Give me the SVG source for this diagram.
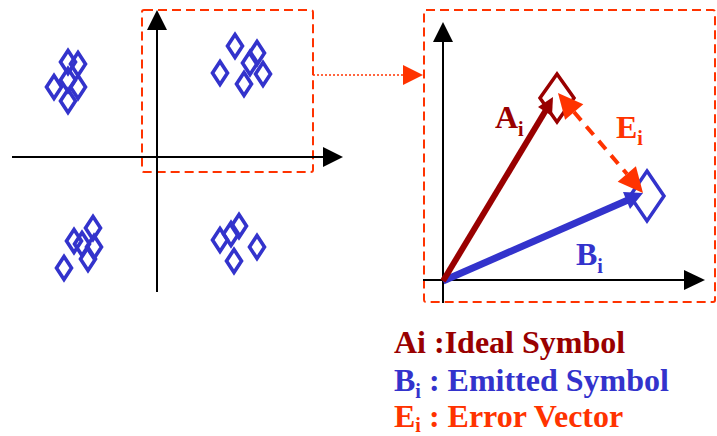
<svg xmlns="http://www.w3.org/2000/svg" xmlns:xlink="http://www.w3.org/1999/xlink" width="717" height="436" viewBox="0 0 717 436">
<style>
.axis{stroke:#000;stroke-width:2;fill:none}
.head{fill:#000}
.frame{fill:none;stroke:#FF3300;stroke-width:2;stroke-dasharray:9,5}
.sd{fill:none;stroke:#3333CC;stroke-width:3.6}
.lbl{font-family:"Liberation Serif","Times New Roman",serif;font-weight:bold;font-size:32px}
.sub{font-size:20px}
.red{fill:#990000}
.blue{fill:#3333CC}
.orange{fill:#FF3300}
</style>
<defs>
<path id="dm" d="M0,-11.5 L7.5,0 L0,11.5 L-7.5,0 Z"/>
</defs>
<rect width="717" height="436" fill="#fff"/>
<g id="left-frame"><rect class="frame" x="142" y="10" width="171" height="162" rx="2"/></g>
<g id="right-frame"><rect class="frame" x="424" y="10" width="291" height="292" rx="2"/></g>
<g id="left-axes">
<line class="axis" x1="12" y1="157" x2="325" y2="157"/>
<polygon class="head" points="323,147 343,157 323,167"/>
<line class="axis" x1="157" y1="292" x2="157" y2="28"/>
<polygon class="head" points="147,30 157,10 167,30"/>
</g>
<g id="constellation">
<use xlink:href="#dm" class="sd" x="68" y="62"/>
<use xlink:href="#dm" class="sd" x="78" y="64"/>
<use xlink:href="#dm" class="sd" x="54" y="87"/>
<use xlink:href="#dm" class="sd" x="68" y="80"/>
<use xlink:href="#dm" class="sd" x="78" y="87"/>
<use xlink:href="#dm" class="sd" x="68" y="101"/>
<use xlink:href="#dm" class="sd" x="235" y="46"/>
<use xlink:href="#dm" class="sd" x="257" y="53"/>
<use xlink:href="#dm" class="sd" x="250" y="63"/>
<use xlink:href="#dm" class="sd" x="220" y="73"/>
<use xlink:href="#dm" class="sd" x="263" y="74"/>
<use xlink:href="#dm" class="sd" x="244" y="84"/>
<use xlink:href="#dm" class="sd" x="93" y="228"/>
<use xlink:href="#dm" class="sd" x="74" y="241"/>
<use xlink:href="#dm" class="sd" x="82" y="244"/>
<use xlink:href="#dm" class="sd" x="94" y="247"/>
<use xlink:href="#dm" class="sd" x="88" y="259"/>
<use xlink:href="#dm" class="sd" x="64" y="268"/>
<use xlink:href="#dm" class="sd" x="239" y="226"/>
<use xlink:href="#dm" class="sd" x="231" y="234"/>
<use xlink:href="#dm" class="sd" x="220" y="240"/>
<use xlink:href="#dm" class="sd" x="257" y="247"/>
<use xlink:href="#dm" class="sd" x="234" y="261"/>
</g>
<g id="right-axes">
<line class="axis" x1="423" y1="280" x2="686" y2="280"/>
<polygon class="head" points="684,270 705,280 684,290"/>
<line class="axis" x1="443" y1="303" x2="443" y2="40"/>
<polygon class="head" points="433,42 443,22 453,42"/>
</g>
<g id="symbol-A"><path d="M557,74 L574,98 L557,122 L540,98 Z" fill="none" stroke="#990000" stroke-width="3.5"/></g>
<g id="symbol-B"><path d="M647,171 L664,196 L647,221 L630,196 Z" fill="none" stroke="#3333CC" stroke-width="3.5"/></g>
<g id="connectors">
<path d="M443,281 L628,200" stroke="#3333CC" stroke-width="7" fill="none"/>
<polygon points="643,193 630,209 623,192" fill="#3333CC"/>
<path d="M443,281 L546,110" stroke="#990000" stroke-width="6" fill="none"/>
<polygon points="553,97 552,116 538,107" fill="#990000"/>
<path d="M574,112 L627,174" stroke="#FF3300" stroke-width="4" stroke-dasharray="11,8" fill="none"/>
<polygon points="558,93 583.3,104.3 565.1,119.8" fill="#FF3300"/>
<polygon points="643,193 635.9,166.2 617.7,181.7" fill="#FF3300"/>
<path d="M313,75 L404,75" stroke="#FF3300" stroke-width="1.5" stroke-dasharray="2,2" fill="none"/>
<polygon points="403,65 423,75 403,85" fill="#FF3300"/>
</g>
<g id="labels">
<text class="lbl red" x="495" y="128">A<tspan class="sub" dy="8">i</tspan></text>
<text class="lbl orange" x="616" y="138">E<tspan class="sub" dy="7">i</tspan></text>
<text class="lbl blue" x="576" y="265">B<tspan class="sub" dy="8">i</tspan></text>
</g>
<g id="legend">
<text class="lbl red" x="394" y="353">Ai :Ideal Symbol</text>
<text class="lbl blue" x="394" y="391">B<tspan class="sub" dy="7">i</tspan><tspan dy="-7"> : Emitted Symbol</tspan></text>
<text class="lbl orange" x="394" y="427">E<tspan class="sub" dy="5">i</tspan><tspan dy="-5"> : Error Vector</tspan></text>
</g>
</svg>
